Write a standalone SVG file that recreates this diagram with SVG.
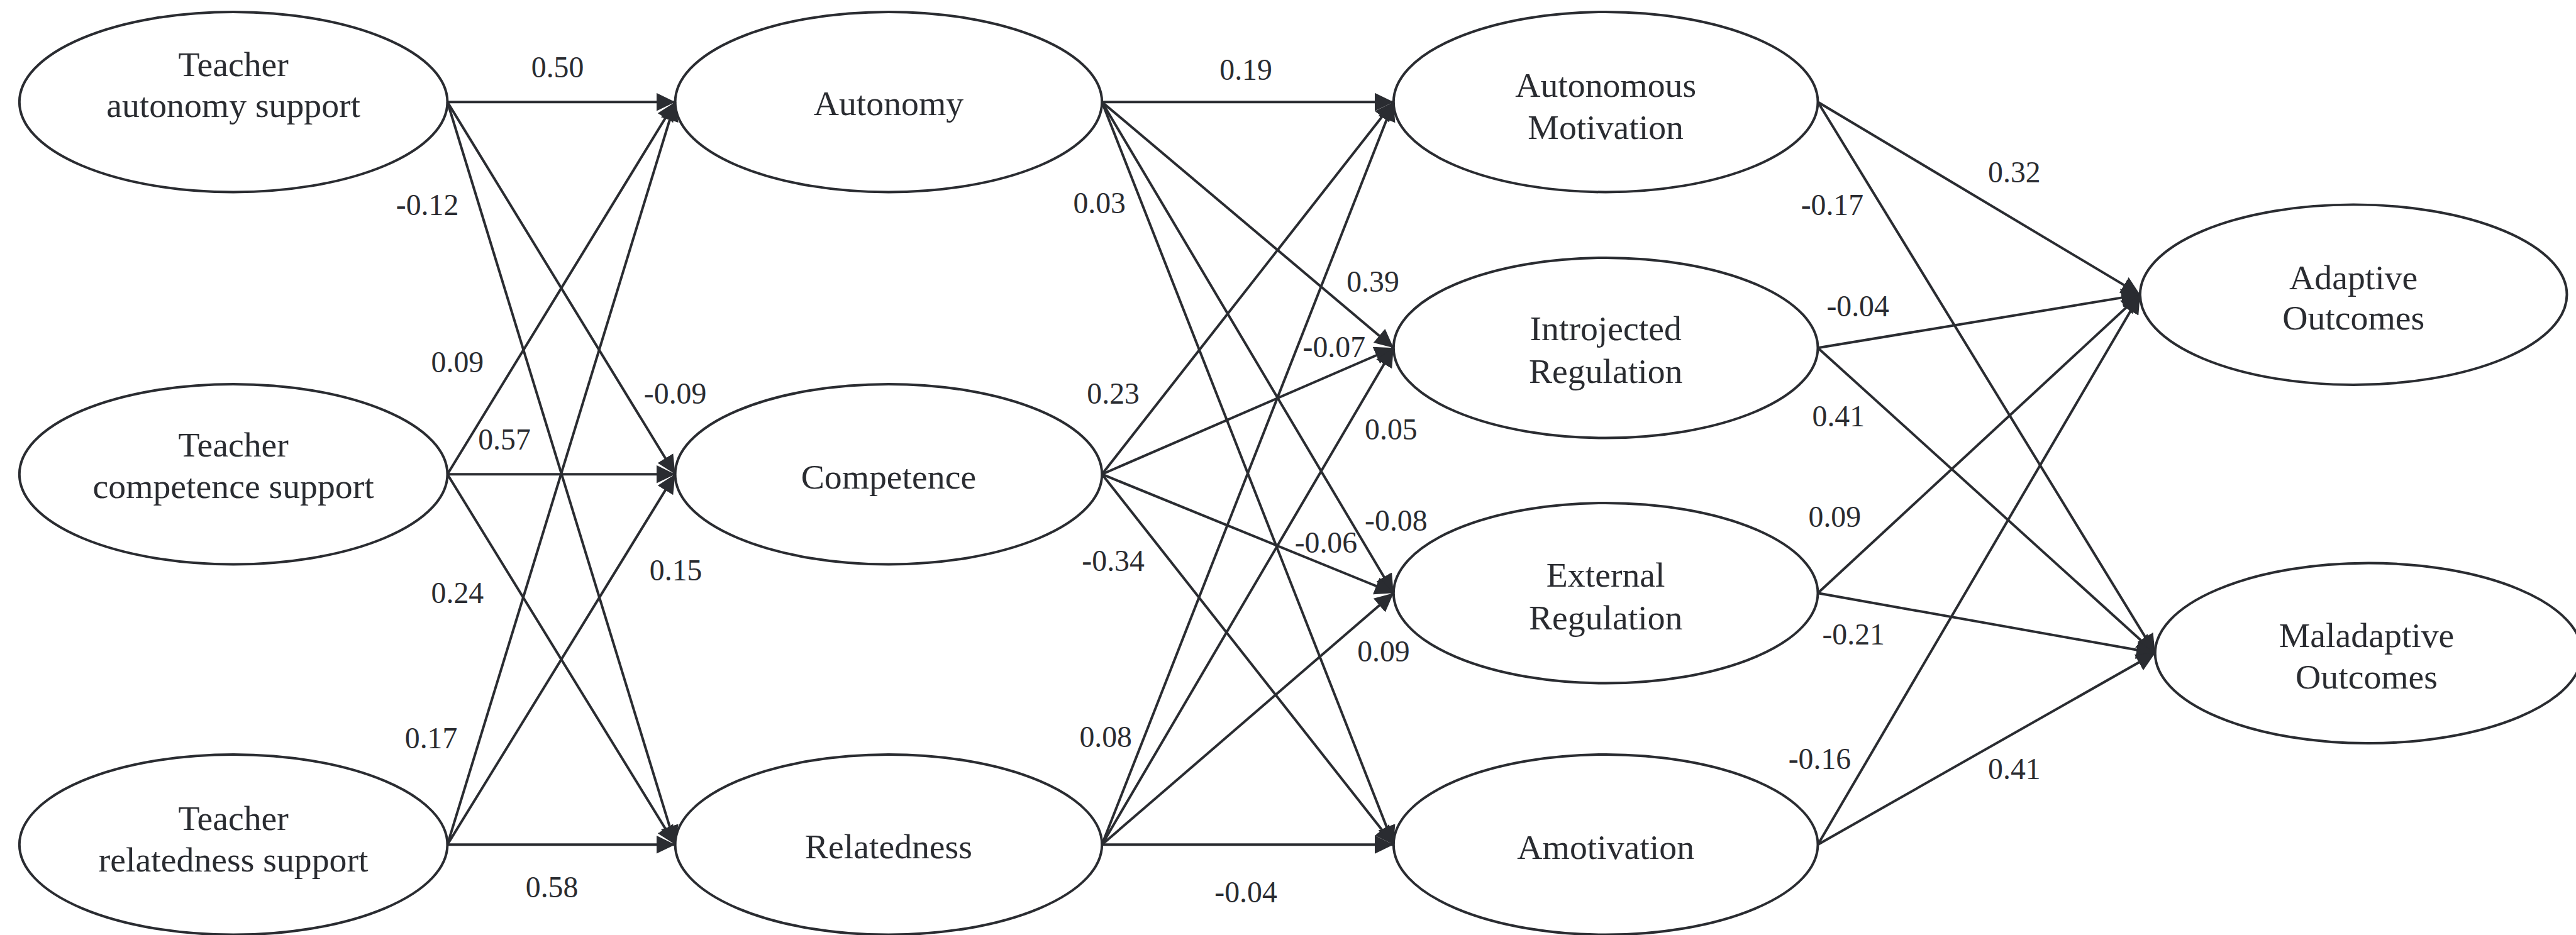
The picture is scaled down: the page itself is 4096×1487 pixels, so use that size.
<svg xmlns="http://www.w3.org/2000/svg" width="4096" height="1487" viewBox="0 0 4096 1487">
<style>
.n ellipse{fill:#ffffff;stroke:#2a2c31;stroke-width:4}
.n text{font-family:'Liberation Serif',serif;font-size:56px;fill:#2a2c31;text-anchor:middle}
.c line{stroke:#2a2c31;stroke-width:4;marker-end:url(#ah)}
.l text{font-family:'Liberation Serif',serif;font-size:48px;fill:#2a2c31;text-anchor:middle}
</style>
<defs>
<marker id="ah" markerUnits="userSpaceOnUse" markerWidth="30" markerHeight="29" viewBox="0 0 30 29" refX="30" refY="14.5" orient="auto">
<path d="M0,0 L30,14.5 L0,29 Z" fill="#2a2c31"/>
</marker>
</defs>
<rect width="4096" height="1487" fill="#ffffff"/>
<g transform="scale(0.995)">
<g class="n" font-family="Liberation Serif, serif">
<g id="tas"><ellipse cx="373" cy="163" rx="342" ry="144"/><text x="373" y="122">Teacher</text><text x="373" y="187">autonomy support</text></g>
<g id="tcs"><ellipse cx="373" cy="758" rx="342" ry="144"/><text x="373" y="730">Teacher</text><text x="373" y="796">competence support</text></g>
<g id="trs"><ellipse cx="373" cy="1350" rx="342" ry="144"/><text x="373" y="1327">Teacher</text><text x="373" y="1393">relatedness support</text></g>
<g id="autonomy"><ellipse cx="1420" cy="163" rx="341" ry="144"/><text x="1420" y="184">Autonomy</text></g>
<g id="competence"><ellipse cx="1420" cy="758" rx="341" ry="144"/><text x="1420" y="781">Competence</text></g>
<g id="relatedness"><ellipse cx="1420" cy="1350" rx="341" ry="144"/><text x="1420" y="1372">Relatedness</text></g>
<g id="am"><ellipse cx="2566" cy="163" rx="339" ry="144"/><text x="2566" y="155">Autonomous</text><text x="2566" y="222">Motivation</text></g>
<g id="ir"><ellipse cx="2566" cy="556" rx="339" ry="144"/><text x="2566" y="544">Introjected</text><text x="2566" y="612">Regulation</text></g>
<g id="er"><ellipse cx="2566" cy="948" rx="339" ry="144"/><text x="2566" y="938">External</text><text x="2566" y="1006">Regulation</text></g>
<g id="amot"><ellipse cx="2566" cy="1350" rx="339" ry="144"/><text x="2566" y="1373">Amotivation</text></g>
<g id="adaptive"><ellipse cx="3761" cy="471" rx="341" ry="144"/><text x="3761" y="462">Adaptive</text><text x="3761" y="527">Outcomes</text></g>
<g id="maladaptive"><ellipse cx="3785" cy="1044" rx="341" ry="144"/><text x="3782" y="1034">Maladaptive</text><text x="3782" y="1100">Outcomes</text></g>
</g>
<g class="c" id="connectors">
<line x1="715" y1="163" x2="1079" y2="163"/>
<line x1="715" y1="163" x2="1079" y2="758"/>
<line x1="715" y1="163" x2="1079" y2="1350"/>
<line x1="715" y1="758" x2="1079" y2="163"/>
<line x1="715" y1="758" x2="1079" y2="758"/>
<line x1="715" y1="758" x2="1079" y2="1350"/>
<line x1="715" y1="1350" x2="1079" y2="163"/>
<line x1="715" y1="1350" x2="1079" y2="758"/>
<line x1="715" y1="1350" x2="1079" y2="1350"/>
<line x1="1761" y1="163" x2="2227" y2="163"/>
<line x1="1761" y1="163" x2="2227" y2="556"/>
<line x1="1761" y1="163" x2="2227" y2="948"/>
<line x1="1761" y1="163" x2="2227" y2="1350"/>
<line x1="1761" y1="758" x2="2227" y2="163"/>
<line x1="1761" y1="758" x2="2227" y2="556"/>
<line x1="1761" y1="758" x2="2227" y2="948"/>
<line x1="1761" y1="758" x2="2227" y2="1350"/>
<line x1="1761" y1="1350" x2="2227" y2="163"/>
<line x1="1761" y1="1350" x2="2227" y2="556"/>
<line x1="1761" y1="1350" x2="2227" y2="948"/>
<line x1="1761" y1="1350" x2="2227" y2="1350"/>
<line x1="2905" y1="163" x2="3420" y2="471"/>
<line x1="2905" y1="163" x2="3444" y2="1044"/>
<line x1="2905" y1="556" x2="3420" y2="471"/>
<line x1="2905" y1="556" x2="3444" y2="1044"/>
<line x1="2905" y1="948" x2="3420" y2="471"/>
<line x1="2905" y1="948" x2="3444" y2="1044"/>
<line x1="2905" y1="1350" x2="3420" y2="471"/>
<line x1="2905" y1="1350" x2="3444" y2="1044"/>
</g>
<g class="l" id="labels" font-family="Liberation Serif, serif">
<text x="891" y="124">0.50</text>
<text x="683" y="344">-0.12</text>
<text x="731" y="595">0.09</text>
<text x="1079" y="645">-0.09</text>
<text x="806" y="719">0.57</text>
<text x="1080" y="928">0.15</text>
<text x="731" y="964">0.24</text>
<text x="689" y="1196">0.17</text>
<text x="882" y="1434">0.58</text>
<text x="1991" y="128">0.19</text>
<text x="1757" y="341">0.03</text>
<text x="2194" y="466">0.39</text>
<text x="2132" y="571">-0.07</text>
<text x="1779" y="645">0.23</text>
<text x="2223" y="703">0.05</text>
<text x="2231" y="848">-0.08</text>
<text x="2119" y="883">-0.06</text>
<text x="1779" y="913">-0.34</text>
<text x="2211" y="1057">0.09</text>
<text x="1767" y="1194">0.08</text>
<text x="1991" y="1442">-0.04</text>
<text x="3219" y="291">0.32</text>
<text x="2928" y="344">-0.17</text>
<text x="2969" y="506">-0.04</text>
<text x="2938" y="681">0.41</text>
<text x="2932" y="842">0.09</text>
<text x="2962" y="1030">-0.21</text>
<text x="2908" y="1229">-0.16</text>
<text x="3219" y="1245">0.41</text>
</g>
</g>
</svg>
